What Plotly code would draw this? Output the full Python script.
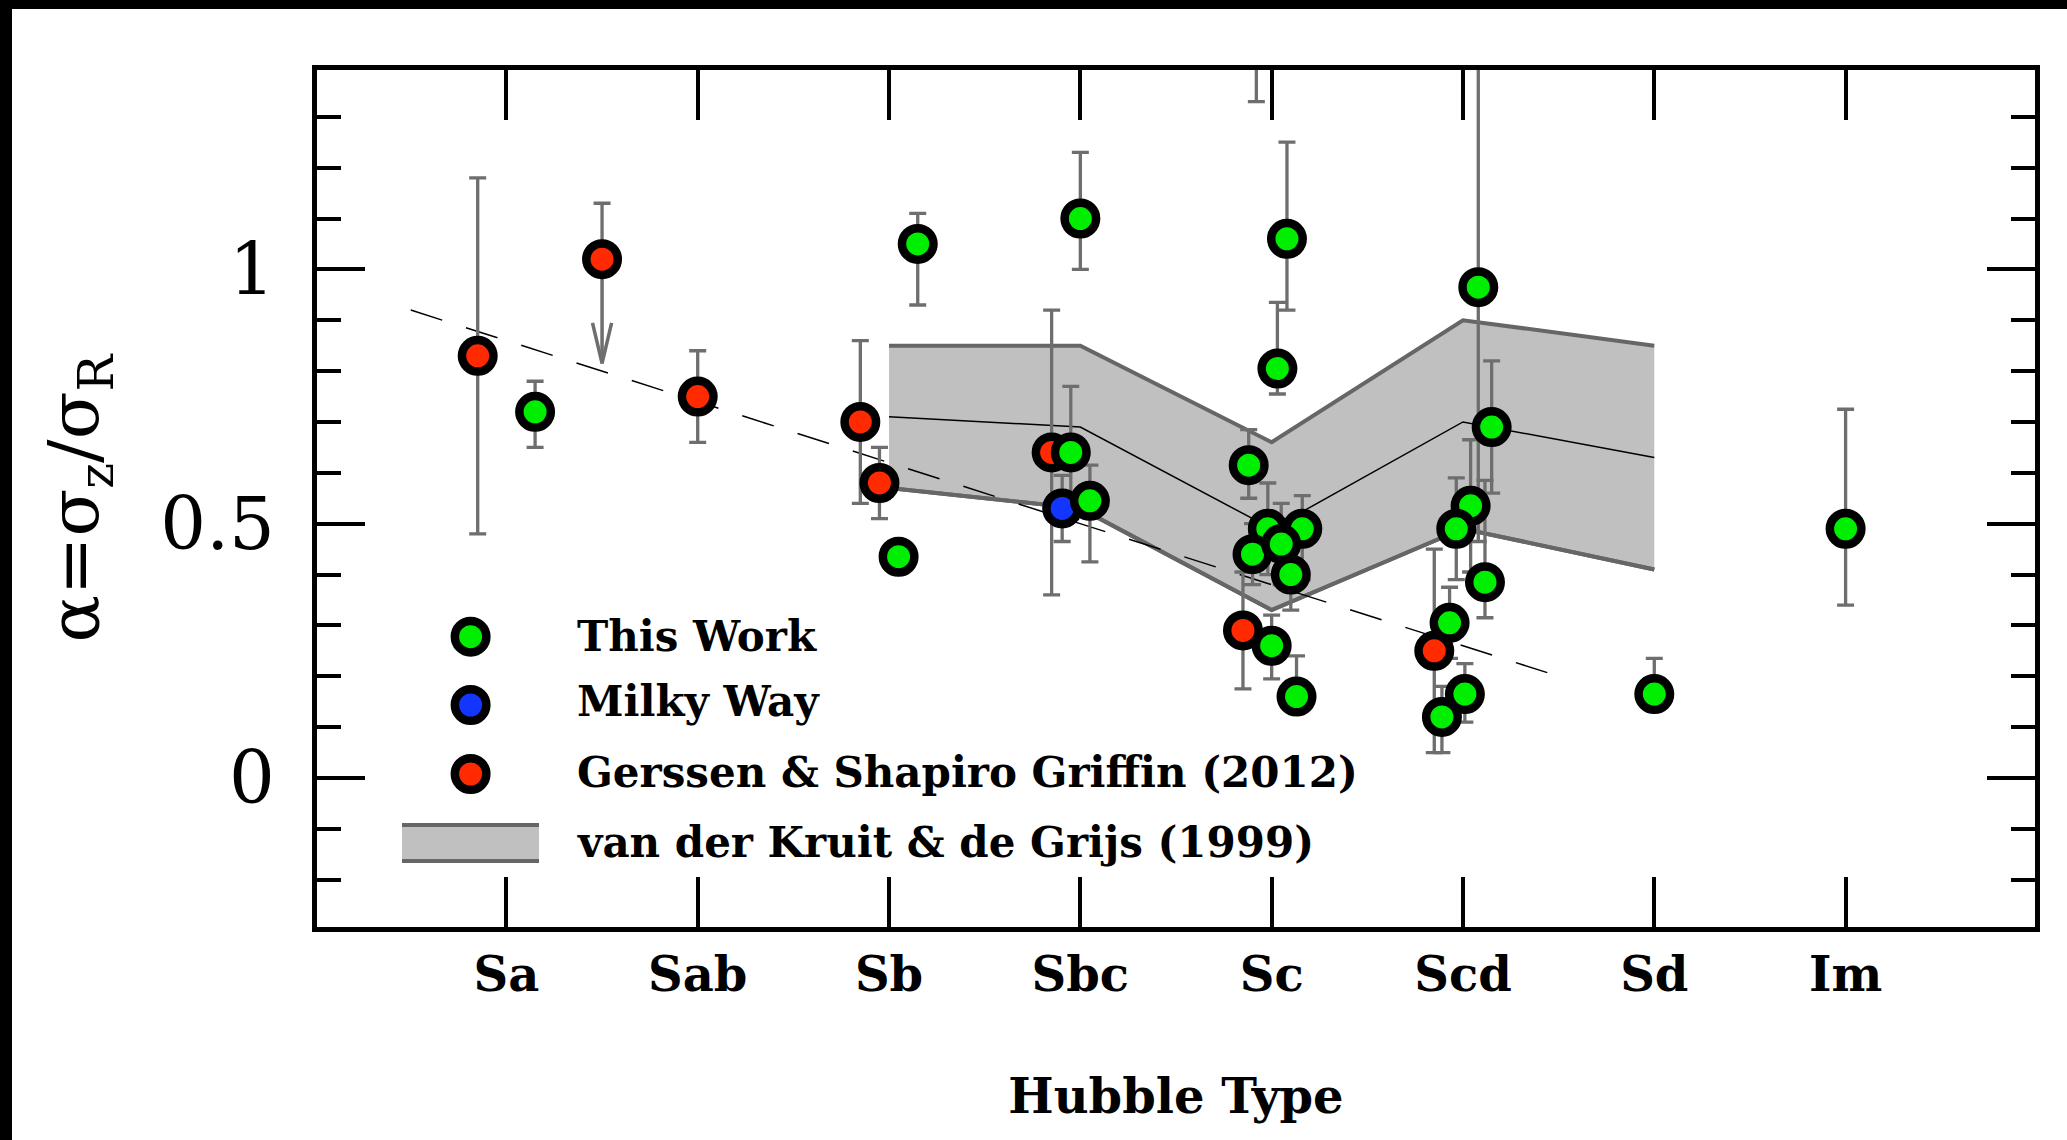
import plotly.graph_objects as go

# ---------------- data ----------------
type_names = ["Sa", "Sab", "Sb", "Sbc", "Sc", "Scd", "Sd", "Im"]
type_codes = [1, 2, 3, 4, 5, 6, 7, 8]

# This Work
work_x = [1.15, 3.15, 3.05, 4.00, 3.95, 4.05, 4.88, 5.03, 5.08, 4.98, 5.16, 4.90, 5.05, 5.10,
          5.00, 5.13, 4.92, 6.15, 6.04, 5.965, 6.115, 5.93, 6.01, 5.89, 6.08, 7.00, 8.00]
work_alpha = [0.72, 1.05, 0.435, 1.10, 0.64, 0.545, 0.615, 0.805, 1.06, 0.49, 0.49, 0.44, 0.46, 0.40,
              0.26, 0.16, 1.55, 0.69, 0.535, 0.49, 0.385, 0.305, 0.165, 0.12, 0.965, 0.165, 0.49]
work_err_hi = [0.06, 0.06, 0.0, 0.13, 0.13, 0.07, 0.07, 0.13, 0.19, 0.09, 0.065, 0.06, 0.08, 0.10,
               0.06, 0.08, 0.10, 0.13, 0.13, 0.10, 0.20, 0.07, 0.06, 0.06, 0.60, 0.07, 0.235]
work_err_lo = [0.07, 0.12, 0.0, 0.10, 0.13, 0.12, 0.065, 0.05, 0.14, 0.09, 0.10, 0.06, 0.08, 0.07,
               0.065, 0.03, 0.22, 0.13, 0.13, 0.10, 0.07, 0.07, 0.055, 0.07, 0.50, 0.03, 0.15]

# Milky Way
mw_x = [3.905]
mw_alpha = [0.53]
mw_err = [0.065]

# Gerssen & Shapiro Griffin (2012)
gsg_x = [0.85, 1.50, 2.00, 2.85, 2.95, 3.85, 4.85, 5.85]
gsg_alpha = [0.83, 1.02, 0.75, 0.70, 0.58, 0.64, 0.29, 0.25]
gsg_err_hi = [0.35, 0.11, 0.09, 0.16, 0.07, 0.28, 0.115, 0.20]
gsg_err_lo = [0.35, 0.0, 0.09, 0.16, 0.07, 0.28, 0.115, 0.20]

# upper limit drawn as a downward arrow
limit_x = [1.50]
limit_from = [1.02]
limit_to = [0.815]

# van der Kruit & de Grijs (1999) range
vdk_x = [3, 4, 5, 6, 7]
vdk_hi = [0.85, 0.85, 0.66, 0.90, 0.85]
vdk_mid = [0.71, 0.69, 0.49, 0.70, 0.63]
vdk_lo = [0.57, 0.53, 0.33, 0.49, 0.41]

# dashed trend line
trend_x = [0.5, 6.5]
trend_alpha = [0.92, 0.20]

# ---------------- style ----------------
GREEN = "#00ee00"
RED = "#ff2a00"
BLUE = "#1236ff"
BAR = "#6e6e6e"
BAND_FILL = "#c0c0c0"
BAND_EDGE = "#666666"
SERIF = "DejaVu Serif"

MSIZE = 31.5
MLINE = 8.5

W, H = 2067, 1140
ML, MR, MT, MB = 317, 32, 70, 213
PW, PH = W - ML - MR, H - MT - MB


def px_x(px):
    return (px - ML) / PW


def px_y(py):
    return (H - MB - py) / PH


fig = go.Figure()

# band: lower edge, then upper edge filled down to it
fig.add_trace(go.Scatter(x=vdk_x, y=vdk_lo, mode="lines",
                         line=dict(color=BAND_EDGE, width=4), showlegend=False, hoverinfo="skip"))
fig.add_trace(go.Scatter(x=vdk_x, y=vdk_hi, mode="lines", fill="tonexty", fillcolor=BAND_FILL,
                         line=dict(color=BAND_EDGE, width=4), showlegend=False, hoverinfo="skip"))
fig.add_trace(go.Scatter(x=vdk_x, y=vdk_lo, mode="lines",
                         line=dict(color=BAND_EDGE, width=4), showlegend=False, hoverinfo="skip"))
fig.add_trace(go.Scatter(x=vdk_x, y=vdk_mid, mode="lines",
                         line=dict(color="black", width=1.5), showlegend=False, hoverinfo="skip"))

# trend line
fig.add_trace(go.Scatter(x=trend_x, y=trend_alpha, mode="lines",
                         line=dict(color="black", width=1.5, dash="33px,25px"),
                         showlegend=False, hoverinfo="skip"))


def err(hi, lo):
    return dict(type="data", symmetric=False, array=hi, arrayminus=lo,
                color=BAR, thickness=3.3, width=8.5)


# error bars first so every marker sits on top of them
for xs, ys, hi, lo in [(gsg_x, gsg_alpha, gsg_err_hi, gsg_err_lo),
                       (mw_x, mw_alpha, mw_err, mw_err),
                       (work_x, work_alpha, work_err_hi, work_err_lo)]:
    fig.add_trace(go.Scatter(x=xs, y=ys, mode="markers",
                             marker=dict(size=1, color="rgba(0,0,0,0)"),
                             error_y=err(hi, lo), showlegend=False, hoverinfo="skip"))

# upper-limit arrow: shaft plus open head
HEAD_DX, HEAD_DY = 0.05, 0.08
for lx, y0, y1 in zip(limit_x, limit_from, limit_to):
    fig.add_trace(go.Scatter(x=[lx, lx], y=[y0, y1], mode="lines",
                             line=dict(color=BAR, width=3.5), showlegend=False, hoverinfo="skip"))
    fig.add_trace(go.Scatter(x=[lx - HEAD_DX, lx, lx + HEAD_DX],
                             y=[y1 + HEAD_DY, y1, y1 + HEAD_DY], mode="lines",
                             line=dict(color=BAR, width=3.5), showlegend=False, hoverinfo="skip"))

for xs, ys, col, name in [(gsg_x, gsg_alpha, RED, "Gerssen & Shapiro Griffin (2012)"),
                          (mw_x, mw_alpha, BLUE, "Milky Way"),
                          (work_x, work_alpha, GREEN, "This Work")]:
    fig.add_trace(go.Scatter(x=xs, y=ys, mode="markers", name=name,
                             marker=dict(size=MSIZE, color=col, line=dict(color="black", width=MLINE)),
                             showlegend=False))

# ---------------- legend (drawn by hand) ----------------
legend_marker_x = px_x(470.6)
legend_text_x = px_x(575)
legend_rows = [("This Work", GREEN, 636.7, 636),
               ("Milky Way", BLUE, 705, 701),
               ("Gerssen & Shapiro Griffin (2012)", RED, 774, 772)]
LEGEND_FONT = dict(family=SERIF, size=42, color="black", weight="bold")
shapes = []
annotations = []
for label, col, ym, yt in legend_rows:
    shapes.append(dict(type="circle", xref="paper", yref="paper",
                       xsizemode="pixel", ysizemode="pixel",
                       xanchor=legend_marker_x, yanchor=px_y(ym),
                       x0=-MSIZE / 2, x1=MSIZE / 2, y0=-MSIZE / 2, y1=MSIZE / 2,
                       fillcolor=col, line=dict(color="black", width=MLINE), layer="above"))
    annotations.append(dict(text=label, xref="paper", yref="paper", x=legend_text_x, y=px_y(yt),
                            xanchor="left", yanchor="middle", showarrow=False, font=LEGEND_FONT))

shapes.append(dict(type="rect", xref="paper", yref="paper",
                   x0=px_x(402), x1=px_x(539), y0=px_y(861), y1=px_y(825),
                   fillcolor=BAND_FILL, line=dict(width=0), layer="above"))
for yy in (825, 861):
    shapes.append(dict(type="line", xref="paper", yref="paper",
                       x0=px_x(402), x1=px_x(539), y0=px_y(yy), y1=px_y(yy),
                       line=dict(color=BAND_EDGE, width=4), layer="above"))
annotations.append(dict(text="van der Kruit & de Grijs (1999)", xref="paper", yref="paper",
                        x=legend_text_x, y=px_y(842), xanchor="left", yanchor="middle",
                        showarrow=False, font=LEGEND_FONT))

# dark frame strips along the top and left page edges
shapes.append(dict(type="rect", xref="paper", yref="paper", x0=-0.5, x1=1.5,
                   y0=px_y(9), y1=1.3, fillcolor="black", line=dict(width=0), layer="above"))
shapes.append(dict(type="rect", xref="paper", yref="paper", x0=-0.5, x1=px_x(12),
                   y0=-0.5, y1=1.3, fillcolor="black", line=dict(width=0), layer="above"))

fig.update_layout(
    width=W, height=H,
    margin=dict(l=ML, r=MR, t=MT, b=MB, pad=0),
    paper_bgcolor="white", plot_bgcolor="white",
    showlegend=False,
    shapes=shapes, annotations=annotations,
    xaxis=dict(range=[0.01, 8.99], tickmode="array", tickvals=type_codes, ticktext=type_names,
               ticks="inside", ticklen=50, tickwidth=3.5, tickcolor="black",
               showline=True, linewidth=4.5, linecolor="black", mirror="allticks",
               showgrid=False, zeroline=False, ticklabelstandoff=2,
               tickfont=dict(family=SERIF, size=48, color="black", weight="bold"),
               title=dict(text="Hubble Type", standoff=80,
                          font=dict(family=SERIF, size=48, color="black", weight="bold"))),
    yaxis=dict(range=[-0.293, 1.392], tickmode="array", tickvals=[0, 0.5, 1],
               ticktext=["0", "0.5", "1"],
               ticks="inside", ticklen=48, tickwidth=3.5, tickcolor="black",
               minor=dict(dtick=0.1, tick0=0, ticks="inside", ticklen=24, tickwidth=3.5,
                          tickcolor="black", showgrid=False),
               showline=True, linewidth=4.5, linecolor="black", mirror="allticks",
               showgrid=False, zeroline=False, ticklabelstandoff=23,
               tickfont=dict(family=SERIF, size=72, color="black"),
               title=dict(text="α=σ<sub>z</sub>/σ<sub>R</sub>", standoff=40,
                          font=dict(family=SERIF, size=70, color="black"))),
)

fig.write_html("out.html")
